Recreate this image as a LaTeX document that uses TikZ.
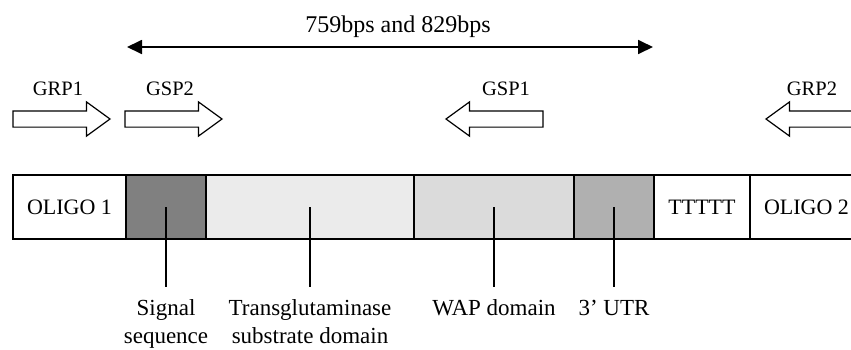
\documentclass[tikz,border=0pt]{standalone}
\usepackage{fontspec}
\setmainfont{Liberation Serif}
\usetikzlibrary{arrows.meta,positioning,shapes.arrows}

\begin{document}
\begin{tikzpicture}[x=1pt,y=-1pt,>=Triangle,
 seg/.style={draw=black,line width=1.6pt,minimum height=64pt,inner sep=0pt,outer sep=0pt,font=\fontsize{22}{26}\selectfont},
 primer/.style={single arrow,draw=black,line width=1.2pt,fill=white,minimum height=97pt,inner xsep=0pt,inner ysep=7.5pt,outer sep=0pt,single arrow head extend=9pt,single arrow tip angle=72,anchor=tip},
 primerlbl/.style={font=\fontsize{20.5}{24}\selectfont,anchor=base,inner sep=0pt},
 partlbl/.style={font=\fontsize{23}{28}\selectfont,align=center,anchor=base,inner sep=0pt},
 leader/.style={line width=1.3pt},
 span/.style={line width=1.8pt,arrows={Triangle[length=15pt,width=14pt]-Triangle[length=15pt,width=14pt]}}]
 \clip (0,0) rectangle (851,349);
 % cDNA construct, left to right
 \node[seg,minimum width=113pt,anchor=north west] (oligoA) at (13,175) {OLIGO 1};
 \node[seg,minimum width=80pt,fill=black!50,right=0pt of oligoA] (signal) {};
 \node[seg,minimum width=208pt,fill=black!8,right=0pt of signal] (tgase) {};
 \node[seg,minimum width=160pt,fill=black!14,right=0pt of tgase] (wap) {};
 \node[seg,minimum width=80pt,fill=black!31,right=0pt of wap] (utr) {};
 \node[seg,minimum width=96pt,right=0pt of utr] (polyT) {TTTTT};
 \node[seg,minimum width=113pt,right=0pt of polyT] (oligoB) {OLIGO 2};
 % primers (placed by their tips)
 \node[primer] (grp1) at (110,119) {};
 \node[primer] (gsp2) at (222,119) {};
 \node[primer,shape border rotate=180] (gsp1) at (446,119) {};
 \node[primer,shape border rotate=180] (grp2) at (766,119) {};
 \node[primerlbl] (grp1lbl) at (58,95) {GRP1};
 \node[primerlbl] (gsp2lbl) at (170,95) {GSP2};
 \node[primerlbl] (gsp1lbl) at (506,95) {GSP1};
 \node[primerlbl] (grp2lbl) at (812,95) {GRP2};
 % amplified length
 \coordinate (spanL) at (127,47);
 \coordinate (spanR) at (653,47);
 \draw[span] (spanL) -- (spanR);
 \node[font=\fontsize{24}{28}\selectfont,anchor=base,inner sep=0pt] (spanlbl) at (398,32) {759bps and 829bps};
 % domain labels (base sits on the last line)
 \draw[leader] (signal.center) -- ++(0,80) coordinate (sigEnd);
 \draw[leader] (tgase.center) -- ++(0,80) coordinate (tgEnd);
 \draw[leader] (wap.center) -- ++(0,80) coordinate (wapEnd);
 \draw[leader] (utr.center) -- ++(0,80) coordinate (utrEnd);
 \node[partlbl] (siglbl) at (sigEnd |- 0,343) {Signal\\sequence};
 \node[partlbl] (tglbl) at (tgEnd |- 0,343) {Transglutaminase\\substrate domain};
 \node[partlbl] (waplbl) at (wapEnd |- 0,315) {WAP domain};
 \node[partlbl] (utrlbl) at (utrEnd |- 0,315) {3’ UTR};
\end{tikzpicture}
\end{document}
